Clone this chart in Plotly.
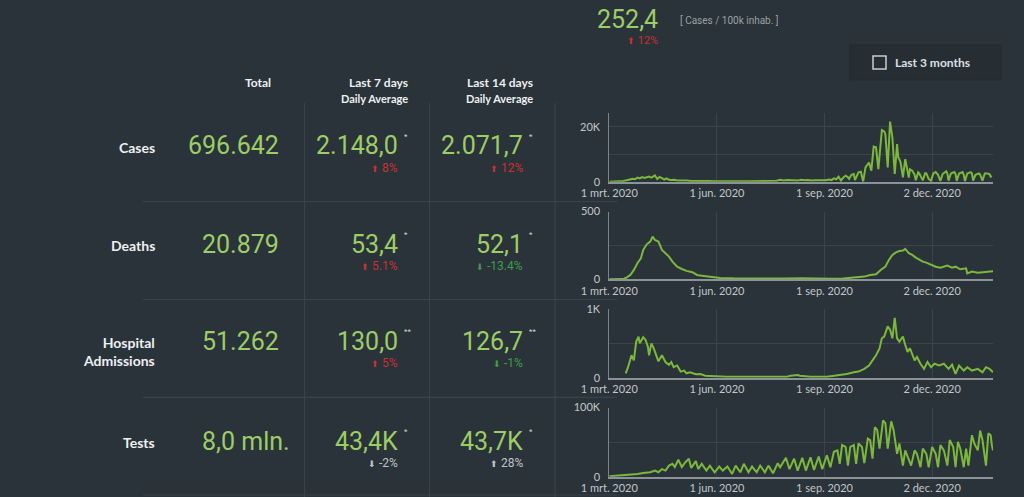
import pandas as pd
import plotly.graph_objects as go

# ---- data (day offsets from 1 Mar 2020) ----
start = pd.Timestamp("2020-03-01")
end = pd.Timestamp("2021-01-23")

cases_day = [0, 5, 9, 12, 15, 18, 20, 22, 24, 26, 28, 30, 32, 34, 36, 38, 39, 41, 43, 45, 47, 49, 51, 53, 56, 58,
             61, 63, 66, 70, 75, 80, 85, 90, 95, 100, 105, 110, 115, 120, 125, 130, 135, 138, 141, 143, 146, 149,
             152, 155, 158, 161, 164, 167, 170, 173, 176, 179, 182, 185, 188, 190, 192, 194, 196, 198, 200, 202,
             204, 205, 207, 209, 210, 212, 213, 215, 217, 219, 222, 224, 226, 228, 230, 233, 235, 236, 238, 240,
             242, 244, 246, 247, 249, 251, 253, 254, 256, 257, 259, 261, 262, 264, 265, 268, 270, 271, 273, 275,
             277, 279, 281, 283, 285, 288, 289, 290, 292, 295, 296, 297, 299, 302, 303, 304, 306, 309, 310, 311,
             313, 316, 317, 319, 321, 323, 325, 326, 327]
cases_val = [0, 50, 150, 300, 500, 800, 1100, 900, 1500, 1200, 1700, 1400, 1600, 1900, 1500, 2100, 2300, 1000,
             1700, 1300, 800, 1200, 700, 600, 700, 400, 500, 300, 400, 250, 300, 200, 250, 150, 200, 150, 200, 120,
             180, 150, 200, 180, 300, 450, 500, 350, 700, 450, 600, 500, 650, 400, 700, 500, 600, 400, 550, 450,
             600, 500, 800, 600, 1200, 900, 1800, 400, 1500, 2200, 1600, 1000, 2500, 2800, 600, 3000, 3400, 3600,
             50, 5200, 7000, 4000, 12800, 12500, 4600, 18800, 18300, 17300, 5200, 21900, 16000, 2800, 13700, 9000,
             7000, 1600, 8200, 6000, 1500, 4500, 4000, 2500, 500, 3400, 3000, 500, 3100, 3000, 1000, 300, 3000,
             3500, 2500, 300, 2800, 3800, 3000, 400, 3000, 3500, 2800, 300, 3000, 3500, 2500, 200, 3000, 3500,
             3000, 400, 2500, 3000, 2600, 400, 3000, 3000, 2800, 1800, 2000]

deaths_day = [0, 12, 15, 18, 21, 24, 27, 29, 32, 35, 37, 39, 42, 45, 48, 51, 54, 58, 62, 66, 71, 75, 79, 84, 89,
              95, 106, 120, 135, 150, 164, 175, 190, 200, 212, 218, 223, 228, 232, 236, 239, 242, 245, 248, 251,
              253, 256, 259, 262, 265, 268, 271, 275, 279, 283, 286, 289, 293, 296, 300, 305, 306, 310, 315, 319,
              323, 326, 328]
deaths_val = [0, 2, 15, 32, 69, 118, 155, 216, 258, 278, 315, 290, 278, 216, 192, 167, 130, 93, 76, 62, 52, 32,
              27, 22, 17, 10, 7, 5, 4, 5, 7, 4, 4, 5, 15, 20, 32, 37, 69, 93, 143, 180, 199, 209, 212, 224, 192,
              180, 160, 143, 130, 123, 106, 93, 86, 95, 101, 86, 93, 74, 81, 44, 57, 49, 52, 57, 62, 60]

hosp_day = [14, 16, 19, 21, 23, 25, 26, 29, 31, 33, 34, 36, 38, 41, 42, 45, 48, 51, 53, 55, 58, 61, 64, 66, 69,
            74, 78, 82, 89, 100, 120, 140, 152, 155, 161, 163, 172, 186, 192, 198, 203, 209, 213, 218, 222, 225,
            228, 231, 233, 235, 238, 240, 242, 244, 246, 248, 251, 253, 255, 257, 261, 263, 266, 269, 272, 275,
            278, 282, 286, 290, 293, 296, 299, 303, 306, 310, 315, 319, 322, 325, 328]
hosp_val = [64, 153, 327, 252, 525, 599, 500, 589, 550, 450, 327, 500, 426, 277, 238, 327, 228, 188, 228, 153,
            178, 89, 104, 64, 79, 50, 54, 30, 20, 15, 15, 15, 15, 30, 40, 30, 15, 15, 30, 40, 54, 79, 89, 129,
            178, 252, 327, 426, 574, 599, 747, 698, 574, 871, 574, 525, 599, 475, 376, 426, 252, 302, 203, 129,
            228, 153, 203, 178, 203, 129, 188, 54, 178, 104, 153, 104, 129, 79, 153, 129, 79]

tests_day = [0, 9, 18, 24, 29, 35, 39, 42, 45, 48, 51, 54, 56, 59, 62, 65, 68, 70, 74, 76, 79, 83, 86, 90, 94,
             97, 101, 105, 108, 112, 115, 119, 122, 126, 129, 133, 136, 140, 144, 146, 151, 154, 158, 161, 165,
             168, 172, 175, 179, 182, 186, 189, 192, 195, 197, 199, 202, 204, 206, 209, 211, 213, 216, 218, 221,
             223, 225, 227, 229, 231, 234, 236, 238, 241, 243, 246, 248, 251, 253, 255, 258, 261, 263, 266, 268,
             271, 273, 276, 279, 281, 283, 286, 289, 291, 294, 296, 298, 300, 303, 305, 307, 310, 312, 315, 317,
             319, 322, 324, 326, 327, 328]
tests_val = [500, 1500, 3000, 4000, 5400, 6400, 8800, 6400, 11000, 8800, 16000, 18600, 14000, 24500, 14000,
             21000, 26000, 12700, 22500, 11000, 18600, 8800, 16000, 6400, 14700, 8800, 14700, 4000, 16000, 6400,
             18600, 6400, 14700, 6400, 16000, 6400, 16000, 5000, 19600, 13700, 27400, 11000, 26000, 8800, 27400,
             8800, 28000, 9800, 29000, 11000, 31000, 13700, 36000, 38000, 18600, 45600, 43000, 16000, 43000,
             45600, 18600, 48000, 43000, 19600, 55000, 53000, 26000, 71500, 67600, 40700, 81300, 77400, 40700,
             80000, 67600, 33000, 48000, 16000, 38000, 28000, 16000, 38000, 33000, 13700, 40700, 33000, 13700,
             43000, 33000, 13700, 45600, 38000, 16000, 53000, 43000, 13700, 50500, 40700, 13700, 40700, 16000,
             60000, 48000, 38000, 66600, 53000, 16000, 62700, 60000, 45600, 38000]

row_labels = ["Cases", "Deaths", "Hospital<br>Admissions", "Tests"]
totals = ["696.642", "20.879", "51.262", "8,0 mln."]
avg7 = ["2.148,0", "53,4", "130,0", "43,4K"]
avg14 = ["2.071,7", "52,1", "126,7", "43,7K"]
marks = ["*", "*", "**", "*"]
chg7 = ["8%", "5.1%", "5%", "-2%"]
chg7_dir = ["up", "up", "up", "down"]
chg7_col = ["red", "red", "red", "grey"]
chg14 = ["12%", "-13.4%", "-1%", "28%"]
chg14_dir = ["up", "down", "down", "up"]
chg14_col = ["red", "green", "green", "grey"]

y_ranges = [25000, 500, 1000, 100000]
y_ticks = [[0, 10000, 20000], [0, 250, 500], [0, 500, 1000], [0, 50000, 100000]]
y_ticktext = [["0", "", "20K"], ["0", "", "500"], ["0", "", "1K"], ["0", "", "100K"]]
x_tickdates = ["2020-03-01", "2020-06-01", "2020-09-01", "2020-12-02"]
x_ticktext = ["1 mrt. 2020", "1 jun. 2020", "1 sep. 2020", "2 dec. 2020"]

# ---- styling ----
W, H = 1024, 497
BG = "#2a3339"
GRID = "#3b444a"
LINE_GREEN = "#7cb83c"
NUM_GREEN = "#9ccd66"
COLORS = {"red": "#c8312f", "green": "#3f9e45", "grey": "#bfc3c6"}
ARROWS = {"up": "⬆", "down": "⬇"}


def px(x):
    return x / W


def py(y):
    return 1 - y / H


fig = go.Figure()

series = [(cases_day, cases_val), (deaths_day, deaths_val), (hosp_day, hosp_val), (tests_day, tests_val)]
chart_top = [113, 211.5, 309, 407.5]
chart_bot = [181.7, 279.3, 377.7, 476.7]

for i, (days, vals) in enumerate(series):
    n = "" if i == 0 else str(i + 1)
    dates = start + pd.to_timedelta(days, unit="D")
    fig.add_trace(go.Scatter(x=dates, y=vals, mode="lines", xaxis="x" + n, yaxis="y" + n,
                             line=dict(color=LINE_GREEN, width=2), hoverinfo="skip", showlegend=False))
    fig.layout["xaxis" + n] = dict(
        domain=[px(609.3), px(993)], anchor="y" + n, range=[start, end], automargin=False,
        tickvals=x_tickdates, ticktext=x_ticktext, showgrid=True, gridcolor=GRID,
        showline=True, linecolor="#8c9398", linewidth=2, zeroline=False,
        tickfont=dict(family="Lato", size=11, color="#c3c7ca"), ticks="", fixedrange=True)
    fig.layout["yaxis" + n] = dict(
        domain=[py(chart_bot[i]), py(chart_top[i])], anchor="x" + n, range=[0, y_ranges[i]],
        tickvals=y_ticks[i], ticktext=y_ticktext[i], showgrid=True, gridcolor=GRID, automargin=False,
        showline=True, linecolor="#7d8489", linewidth=1, zeroline=False, ticklabelstandoff=6,
        tickfont=dict(family="Lato", size=11, color="#c3c7ca"), ticks="", fixedrange=True)

shapes = []
# table separators
for yy in [201.5, 299.5, 397.3, 495]:
    shapes.append(dict(type="line", xref="paper", yref="paper", x0=px(143), x1=px(617), y0=py(yy), y1=py(yy),
                       line=dict(color="#3a4349", width=1.2), layer="below"))
for xx in [304.5, 429.5, 555]:
    shapes.append(dict(type="line", xref="paper", yref="paper", x0=px(xx), x1=px(xx), y0=py(103), y1=py(497),
                       line=dict(color="#3a4349", width=1.2), layer="below"))
# checkbox panel
shapes.append(dict(type="rect", xref="paper", yref="paper", x0=px(850), x1=px(1001), y0=py(80), y1=py(45),
                   fillcolor="#262e34", line=dict(color="#222a2f", width=1), layer="below"))
shapes.append(dict(type="rect", xref="paper", yref="paper", x0=px(873), x1=px(886), y0=py(69), y1=py(56),
                   fillcolor="rgba(0,0,0,0)", line=dict(color="#c9cdd0", width=1.5)))

ann = []


def text(x, y, s, size, color, family="Roboto", anchor="right", weight=None):
    f = dict(family=family, size=size, color=color)
    if weight:
        f["weight"] = weight
    ann.append(dict(x=px(x), y=py(y), xref="paper", yref="paper", text=s, showarrow=False,
                    xanchor=anchor, yanchor="middle", align=anchor, font=f))


# header
text(273, 83, "Total", 12, "#eef0f1", "Lato", weight="bold")
text(410, 83, "Last 7 days", 12, "#eef0f1", "Lato", weight="bold")
text(410, 98.5, "Daily Average", 11, "#eef0f1", "Lato", weight="bold")
text(535, 83, "Last 14 days", 12, "#eef0f1", "Lato", weight="bold")
text(535, 98.5, "Daily Average", 11, "#eef0f1", "Lato", weight="bold")

row_y = [146, 244, 341, 441]
for i in range(4):
    y0 = row_y[i]
    text(157, y0 + (1 if i != 2 else 10), row_labels[i], 14, "#eef0f1", "Lato", weight="bold")
    text(281 if i != 3 else 292, y0, totals[i], 25, NUM_GREEN)
    text(400, y0, avg7[i], 25, NUM_GREEN)
    text(525, y0, avg14[i], 25, NUM_GREEN)
    text(402, y0 - 10, marks[i], 8, "#d0d4d6", anchor="left")
    text(527, y0 - 10, marks[i], 8, "#d0d4d6", anchor="left")
    for xr, c, d, col in [(400, chg7[i], chg7_dir[i], chg7_col[i]), (525, chg14[i], chg14_dir[i], chg14_col[i])]:
        s = "<span style='font-size:9px'>" + ARROWS[d] + "</span> " + c
        text(xr, y0 + 22, s, 12, COLORS[col])

# headline metric
text(660, 19, "252,4", 25, NUM_GREEN)
text(678, 21, "[ Cases / 100k inhab. ]", 10, "#9ba1a5", anchor="left")
text(660, 41, "<span style='font-size:9px'>⬆</span> 12%", 11, COLORS["red"])
text(893, 62, "Last 3 months", 12, "#dde0e2", "Lato", anchor="left", weight="bold")

fig.update_layout(width=W, height=H, margin=dict(l=0, r=0, t=0, b=0, autoexpand=False),
                  paper_bgcolor=BG, plot_bgcolor=BG, shapes=shapes, annotations=ann, showlegend=False)

fig.write_html("out.html", config={"displayModeBar": False},
               post_script="document.body.style.margin='0';document.body.style.overflow='hidden';")
